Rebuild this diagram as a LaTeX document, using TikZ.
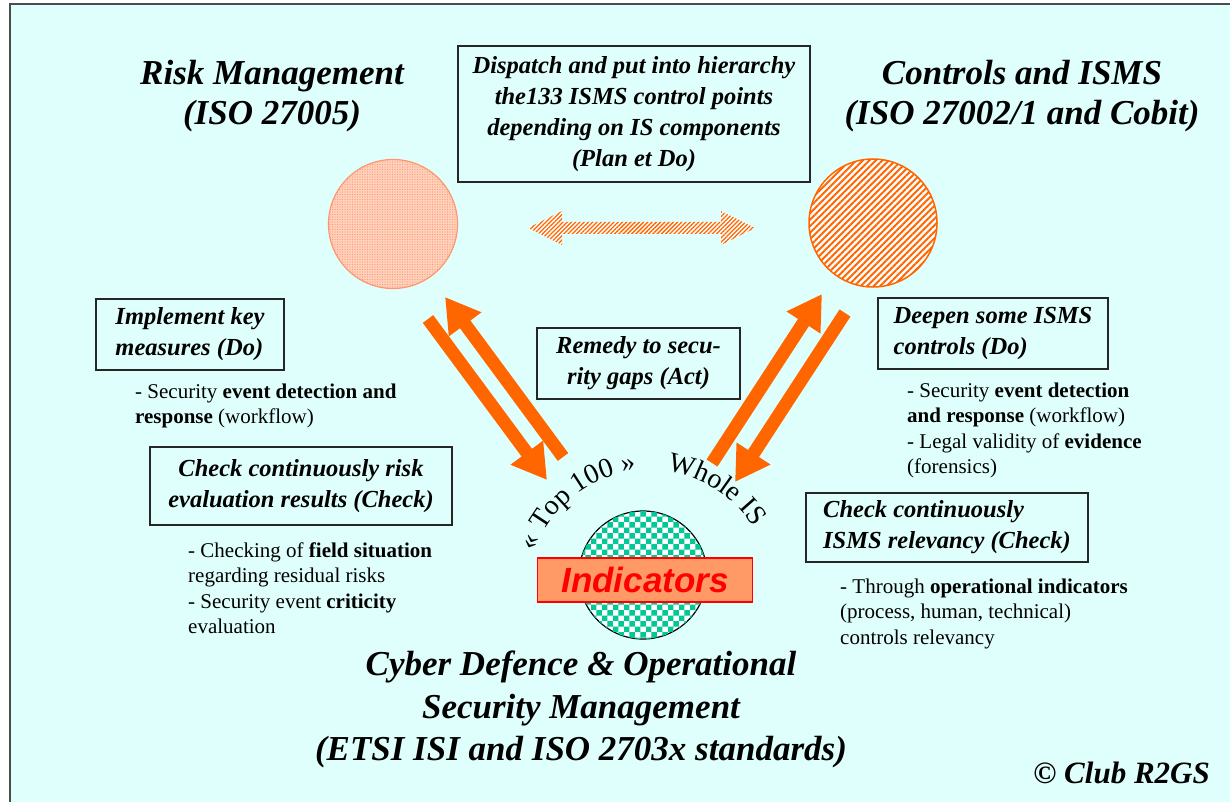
\documentclass[tikz,border=0pt]{standalone}
\usepackage{fontspec}
\setmainfont{Liberation Serif}
\newfontfamily\arialf{Liberation Sans}
\usetikzlibrary{arrows.meta,patterns,patterns.meta,decorations.text,calc}
\definecolor{bgc}{RGB}{223,255,252}
\definecolor{org}{RGB}{255,102,0}
\definecolor{salm}{RGB}{255,153,102}
\definecolor{lor}{RGB}{255,210,190}
\definecolor{lorline}{RGB}{255,150,110}
\definecolor{chk}{RGB}{0,200,150}
\begin{document}
\begin{tikzpicture}[x=1pt,y=-1pt,
  headf/.style={font=\fontsize{35}{40}\selectfont\bfseries\itshape, align=center, inner sep=0, anchor=north},
  boxn/.style={draw=black!85, line width=1.5pt, inner sep=0pt, align=left, font=\fontsize{24.5}{31}\selectfont\bfseries\itshape},
  boxc/.style={boxn, align=center},
  body/.style={font=\fontsize{21}{25.5}\selectfont, align=left, inner sep=0pt, anchor=north west},
  bigarr/.style={draw=org, line width=13pt, -{Triangle[width=38pt,length=34pt]}},
 ]
\useasboundingbox (0,0) rectangle (1230,802);
\fill[white] (0,0) rectangle (1230,802);
\draw[fill=bgc, draw=black!70, line width=2pt] (10,4) rectangle (1240,812);

% headings
\node[headf] (riskT) at (272,56) {\strut Risk Management\\(ISO 27005)};
\node[headf] (ctrlT) at (1022,56) {\strut Controls and ISMS\\(ISO 27002/1 and Cobit)};
\node[headf, font=\fontsize{35}{42.5}\selectfont\bfseries\itshape] (cyberT) at (581,646) {\strut Cyber Defence \& Operational\\Security Management\\(ETSI ISI and ISO 2703x standards)};
\node[font=\fontsize{31}{31}\selectfont\bfseries\itshape, anchor=base east, inner sep=0] (club) at (1210,783) {© Club R2GS};

% boxes
\node[boxc, minimum width=352pt, minimum height=136pt] (dispatch) at (634,114)
  {Dispatch and put into hierarchy\\the133 ISMS control points\\depending on IS components\\(Plan et Do)};
\node[boxc, minimum width=203pt, minimum height=71pt] (remedy) at (638.5,363.5)
  {Remedy to secu-\\rity gaps (Act)};
\node[boxn, minimum width=188pt, minimum height=71pt] (impl) at (190,334.5)
  {Implement key\\measures (Do)};
\node[boxc, minimum width=302pt, minimum height=78pt] (chkrisk) at (301,486)
  {Check continuously risk\\evaluation results (Check)};
\node[boxn, minimum width=230pt, minimum height=71pt] (deepen) at (993,333.5)
  {Deepen some ISMS\\controls (Do)};
\node[boxn, minimum width=282pt, minimum height=69pt] (chkisms) at (947,527.5)
  {Check continuously\\ISMS relevancy (Check)};

% body texts
\node[body] (b1) at (135,380) {\strut- Security \textbf{event detection and}\\\textbf{response} (workflow)};
\node[body] (b2) at (188,539) {\strut- Checking of \textbf{field situation}\\regarding residual risks\\- Security event \textbf{criticity}\\evaluation};
\node[body] (b3) at (907,379) {\strut- Security \textbf{event detection}\\\textbf{and response} (workflow)\\- Legal validity of \textbf{evidence}\\(forensics)};
\node[body] (b4) at (840,575) {\strut- Through \textbf{operational indicators}\\(process, human, technical)\\controls relevancy};

% circles
\node[circle, minimum size=129pt, inner sep=0, draw=lorline, line width=1.2pt, fill=lor,
  postaction={pattern={Dots[distance=2.5pt,radius=0.55pt]}, pattern color=lorline}] (riskC) at (393,224) {};
\node[circle, minimum size=128pt, inner sep=0, draw=org, line width=1.5pt, fill=white,
  postaction={pattern={Lines[angle=45,distance=4.6pt,line width=2pt]}, pattern color=org}] (ctrlC) at (873,223) {};
\node[circle, minimum size=128pt, inner sep=0, draw=black, line width=1.2pt, fill=white,
  postaction={pattern=checkerboard, pattern color=chk}] (indC) at (643,575) {};
\node[draw=red, line width=1.3pt, fill=salm, minimum width=215pt, minimum height=44pt, inner sep=0] (indbox) at (645,580) {};
\node[font=\fontsize{35}{35}\selectfont\arialf\bfseries\itshape, text=red, inner sep=0] (indT) at (645,580) {Indicators};

% double arrow between circles
\path[fill=white, postaction={pattern={Lines[angle=45,distance=3pt,line width=1.3pt]}, pattern color=org}]
  (528,228) -- (562,211) -- (562,222) -- (721,222) -- (721,211) -- (755,228)
  -- (721,245) -- (721,234) -- (562,234) -- (562,245) -- cycle;

% big arrows
\coordinate (a1s) at (428,319); \coordinate (a1e) at (547,480);
\coordinate (a2s) at (563,457); \coordinate (a2e) at (445,297);
\coordinate (a3s) at (712,463); \coordinate (a3e) at (822,294);
\coordinate (a4s) at (845,313); \coordinate (a4e) at (735,482);
\draw[bigarr] (a1s) -- (a1e);
\draw[bigarr] (a2s) -- (a2e);
\draw[bigarr] (a3s) -- (a3e);
\draw[bigarr] (a4s) -- (a4e);

% curved labels
\coordinate (arcc) at (650,592);
\path[decorate, decoration={text along path, text align=center, text={|\fontsize{28}{28}\selectfont|« Top 100 »}}]
  ($(arcc)+(-165:122)$) arc[start angle=-165, end angle=-92, radius=122];
\path[decorate, decoration={text along path, text align=center, text={|\fontsize{28}{28}\selectfont|Whole IS}}]
  ($(arcc)+(-84:122)$) arc[start angle=-84, end angle=-30, radius=122];
\end{tikzpicture}
\end{document}
